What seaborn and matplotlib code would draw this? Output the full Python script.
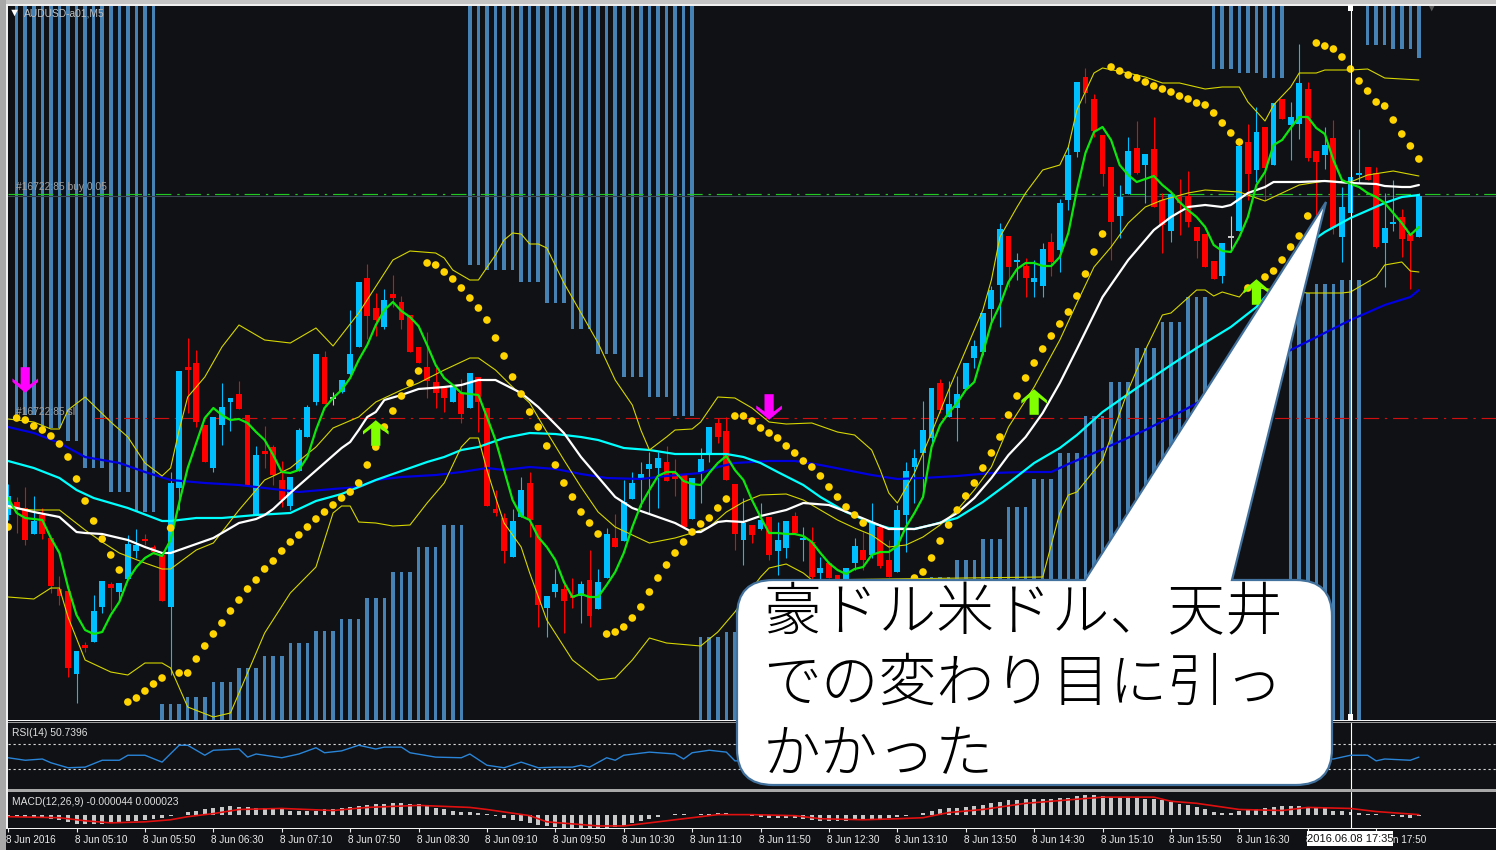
# -*- coding: utf-8 -*-
import numpy as np
import matplotlib
matplotlib.use("Agg")
import matplotlib.pyplot as plt
from matplotlib.patches import PathPatch, Rectangle
from matplotlib.path import Path
from matplotlib.transforms import ScaledTranslation
import seaborn as sns

candle_open = [515,502,508,534,515,538,589,591,674,645,642,607,584,592,579,551,539,547,555,607,
               488,367,363,425,468,425,402,394,415,515,451,447,480,506,471,437,402,357,397,392,
               374,347,278,308,327,294,302,315,347,367,382,388,402,393,408,377,408,509,518,557,
               517,483,525,608,592,589,595,596,580,609,578,538,541,499,478,469,468,462,473,474,
               519,473,453,423,431,484,540,525,529,517,551,548,516,540,542,573,563,575,580,563,
               550,555,527,560,572,515,467,453,438,383,417,408,389,358,352,309,285,236,262,266,
               282,286,242,250,200,152,77,99,135,167,216,194,148,165,149,200,231,197,196,227,
               234,261,276,236,231,142,170,127,165,99,125,124,89,151,155,138,237,213,175,167,
               173,243,223,217,234,237]
candle_close = [496,509,540,521,534,586,596,668,651,648,611,581,588,583,544,545,541,552,601,483,
                371,370,422,462,417,407,398,409,485,455,454,475,500,477,430,407,354,404,397,380,
                354,282,316,320,300,298,320,352,363,381,393,398,387,414,373,402,506,513,551,521,
                490,520,605,596,584,601,598,584,616,582,534,547,502,483,474,464,458,481,479,527,
                478,459,427,437,480,534,523,535,520,555,540,521,533,538,577,568,578,580,568,546,
                560,523,566,577,510,471,458,430,388,410,404,394,363,346,313,290,229,267,260,278,
                278,249,262,203,155,82,93,131,174,222,197,151,173,154,207,225,194,203,222,241,
                267,279,243,236,146,174,132,168,103,119,117,83,158,162,145,228,207,177,173,180,
                247,228,222,239,241,196]
candle_high = [484,497,487,496,508,538,576,588,651,642,595,581,582,583,535,529,534,545,553,472,
               371,338,350,425,417,383,398,381,415,446,426,445,461,477,428,405,354,351,392,380,
               310,282,264,293,289,275,296,315,347,332,367,388,387,379,373,377,408,490,513,509,
               477,472,525,596,569,580,578,581,550,569,528,514,480,472,462,452,452,446,459,474,
               478,448,427,418,417,484,498,525,503,517,522,521,512,527,527,557,563,575,568,538,
               532,503,527,540,505,462,449,401,388,379,381,376,363,340,313,286,223,236,253,258,
               260,243,233,199,145,82,68,94,135,167,185,137,121,154,117,193,194,179,171,227,
               234,261,243,216,140,124,107,127,103,99,102,44,82,151,127,120,187,177,129,167,
               167,193,180,209,234,193]
candle_low = [520,533,545,534,539,593,605,677,703,652,642,613,610,600,579,558,545,554,601,675,
              510,413,427,462,472,445,431,409,485,515,468,485,507,510,471,437,405,404,405,393,
              378,347,339,336,329,307,329,352,363,398,408,412,402,423,408,432,506,516,563,557,
              517,537,627,637,597,633,608,623,627,609,578,547,541,499,507,513,508,481,496,527,
              519,503,462,443,480,550,565,543,530,560,575,558,533,561,580,580,578,580,580,570,
              570,558,568,577,572,552,503,497,445,413,417,441,389,368,355,321,327,287,280,297,
              297,297,276,272,210,157,103,137,186,260,238,194,174,203,207,253,242,235,227,258,
              267,279,283,250,231,200,182,200,165,119,160,139,161,215,169,234,262,213,183,180,
              248,287,231,257,289,237]

green_line = [498,513,518,519,520,538,553,587,615,630,634,632,615,602,580,567,558,553,556,540,
              503,468,443,418,408,415,420,419,423,432,440,455,472,473,470,457,430,408,398,390,
              378,360,345,325,310,302,311,317,326,345,365,378,385,393,394,395,417,440,470,500,
              516,520,537,547,560,582,597,594,597,597,585,572,553,527,505,490,476,472,472,481,
              484,485,473,463,456,470,480,500,517,533,533,534,534,536,542,553,563,570,574,569,
              567,555,552,552,546,527,513,497,447,425,413,403,390,382,353,323,305,282,269,263,
              263,266,266,257,233,190,153,132,127,140,165,175,182,179,176,185,192,202,210,217,
              227,245,251,252,237,217,185,172,145,140,128,117,117,128,134,160,180,184,187,193,
              197,203,213,223,235,227]

white_x = [0,3,6,8,9,11,14,16,18,19,21,24,27,29,30,31,33,35,37,39,40,41,42,43,44,46,48,51,53,55,57,60,62,65,67,69,71,73,76,78,80,81,83,84,
           86,88,91,93,96,99,101,103,106,109,111,113,115,117,119,121,123,125,128,131,134,136,138,140,142,143,145,147,148,151,154,157,160,161,163,164,165]
white_y = [506,512,517,532,533,534,540,547,553,553,547,538,523,519,515,509,493,478,463,448,442,430,417,412,400,395,389,387,385,380,380,393,407,433,457,477,497,508,517,523,532,532,522,521,
           522,516,510,503,505,515,522,529,529,523,513,498,478,455,437,413,383,349,297,260,230,217,207,205,207,205,193,187,182,182,181,183,184,186,187,187,185]

cyan_x = [0,3,6,8,10,14,18,19,22,25,29,33,36,39,41,43,46,49,51,53,55,58,61,64,67,69,72,75,78,81,84,86,88,90,93,95,98,101,103,106,108,111,114,117,120,123,125,128,132,136,139,143,146,153,154,157,161,163,165]
cyan_y = [461,468,478,490,498,508,521,521,518,518,515,513,501,494,487,480,471,462,457,450,447,438,433,434,437,440,448,450,454,454,454,457,463,472,485,497,512,523,528,529,525,518,502,483,463,448,435,412,388,365,348,327,307,238,232,218,203,197,195]

navy_x = [0,3,6,9,13,16,19,23,27,31,34,38,41,43,46,50,53,56,58,61,64,67,70,74,77,81,83,85,89,92,95,98,101,104,107,111,115,119,122,124,127,133,138,150,157,161,164,165]
navy_y = [427,433,443,457,463,472,480,483,485,489,492,489,487,480,477,475,472,468,470,467,469,474,478,479,476,473,467,463,461,461,465,470,475,479,478,476,473,472,472,464,453,430,408,350,320,305,297,290]

band_up_x = [0,3,5,6,7,9,12,14,16,18,19,20,21,23,25,27,30,33,36,38,41,45,47,50,51,52,54,55,57,58,59,60,61,62,63,65,67,69,71,73,74,75,77,78,80,81,83,85,87,89,91,94,97,99,101,102,103,104,106,108,110,112,114,115,116,118,119,121,123,124,125,127,128,131,133,135,137,140,142,144,145,147,148,150,151,153,154,157,159,161,165]
band_up_y = [419,422,429,429,410,397,422,437,463,476,468,430,397,377,347,325,340,343,328,346,313,260,251,253,258,270,280,280,255,240,233,234,244,244,248,283,313,343,380,405,430,450,437,430,429,422,397,398,408,422,424,423,432,435,450,470,493,503,473,433,390,350,310,280,237,207,193,170,165,147,110,73,68,73,77,83,83,89,87,87,102,121,105,87,73,73,70,70,69,78,80]

band_mid_x = [0,3,6,9,11,13,16,18,19,22,24,27,30,33,36,38,41,43,46,48,51,54,55,57,59,61,63,65,67,69,71,73,75,78,80,82,84,86,88,91,93,95,97,99,101,103,105,107,109,111,113,115,117,120,123,125,127,129,131,133,135,138,140,144,147,149,151,154,157,159,162,165]
band_mid_y = [508,510,510,530,542,553,563,569,569,550,543,510,480,468,447,428,417,402,390,383,370,358,358,370,387,403,432,460,487,512,527,535,543,538,533,527,512,502,495,494,500,510,520,528,535,547,545,537,525,510,490,467,427,387,340,303,267,247,223,207,200,193,190,192,201,193,185,181,182,175,171,176]

band_low_x = [0,3,5,6,7,9,12,14,16,18,19,21,24,26,28,30,33,36,38,39,40,41,43,45,47,49,51,53,54,55,56,57,58,60,61,63,66,69,71,73,75,77,81,83,85,86,88,89,91,93,94,121,123,124,125,128,131,133,135,136,139,140,141,142,144,145,152,156,157,160,161,163,164,165]
band_low_y = [597,599,588,588,617,660,672,675,663,663,668,707,717,713,673,633,593,567,513,506,506,522,523,526,525,503,483,447,438,438,470,497,523,547,573,620,660,680,678,660,638,643,646,632,612,600,577,568,564,573,580,577,513,495,492,460,390,350,315,313,290,290,296,292,297,287,293,293,292,277,265,262,271,272]

psar_idx = list(range(0, 101)) + list(range(106, 166))
psar_y = [527,418,420,426,430,436,444,457,479,501,521,539,555,570,702,698,691,684,678,528,
          673,673,659,646,634,623,611,600,589,580,569,561,551,542,535,527,519,512,505,498,
          492,483,465,447,427,411,396,383,371,263,265,272,279,288,298,308,320,338,356,377,
          394,412,427,446,465,483,497,512,523,534,634,632,627,618,607,592,578,565,553,542,
          532,524,518,508,499,416,416,421,428,433,438,446,453,461,467,476,487,497,507,515,523,
          578,572,558,541,525,510,496,483,468,453,437,415,396,378,363,349,336,324,312,296,274,252,234,
          67,71,75,78,82,86,89,92,96,99,103,105,113,123,133,142,
          288,285,277,271,260,247,236,216,
          43,46,49,57,69,81,91,102,106,120,134,146,159]

# oscillator bars hanging from the top of the chart, and standing on its bottom
hang_idx = list(range(1, 18)) + list(range(54, 81)) + list(range(141, 150)) + list(range(159, 166))
hang_end = [415,415,415,428,428,428,441,441,468,468,468,492,492,492,512,512,512,
            265,265,270,270,270,270,282,282,282,303,303,303,329,329,329,354,354,354,377,377,377,397,397,397,416,416,416,
            69,69,69,73,73,73,78,78,78,
            45,45,45,49,49,49,58]
stand_idx = list(range(18, 54)) + list(range(81, 87)) + list(range(108, 141)) + list(range(150, 159))
stand_top = [704,704,704,697,697,697,682,682,682,668,668,668,656,656,656,643,643,643,631,631,631,619,619,619,598,598,598,572,572,572,547,547,547,525,525,525,
             637,637,637,632,632,632,
             577,577,577,560,560,560,539,539,539,507,507,507,479,479,479,453,453,453,416,416,416,382,382,382,348,348,348,322,322,322,297,297,297,
             293,293,293,284,284,284,280,280,280]

rsi_x = [0,2,4,5,7,9,11,13,14,16,18,20,21,23,24,27,28,29,32,34,36,37,39,41,43,44,46,47,50,53,54,56,58,60,62,64,66,67,68,70,71,72,75,78,79,80,82,84,85,155,157,159,160,161,164,165]
rsi_y = [48,44,46,40,32,33,44,44,52,52,41,68,68,52,60,62,49,54,48,54,64,56,59,68,62,65,65,56,49,48,54,36,32,41,32,33,33,36,33,48,44,52,57,54,46,56,60,57,43,46,52,52,43,46,44,49]

macd_hist = [-2,-2,-2,-3,-3,-4,-5,-7,-9,-9,-9,-9,-8,-7,-6,-6,-5,-4,-3,-1,0,
             3,4,5,6,7,8,7,7,6,6,6,5,4,4,4,4,5,5,6,7,8,9,10,10,11,11,10,10,8,6,5,4,3,3,2,1,
             -1,-3,-5,-6,-8,-10,-11,-12,-13,-13,-14,-14,-13,-13,-12,-11,-8,-6,-4,-2,0,1,1,0,1,1,2,2,1,1,
             -1,-2,-3,-3,-3,-3,-4,-5,-6,-6,-6,-6,-5,-5,-4,-4,-3,-2,-1,0,
             2,4,5,6,6,7,8,9,11,12,14,14,15,15,15,15,16,16,18,19,19,18,17,17,16,16,15,15,14,12,10,9,7,5,3,2,2,
             4,5,5,6,7,8,8,8,7,6,6,4,4,3,2,1,1,0,-1,-2,-3,-1]
signal_x = [0,6,9,12,16,19,21,24,27,32,35,38,42,48,54,56,61,63,69,72,77,83,87,92,95,100,104,107,110,114,119,122,125,128,134,136,139,144,149,152,157,160,165]
signal_y = [-2,-3,-6,-8,-7,-5,-2,1,5,6,5,4,7,9,7,5,-1,-7,-11,-11,-6,0,0,-1,-4,-5,-4,-3,2,5,11,13,15,17,17,13,11,5,4,7,6,3,0]

time_ticks = ["8 Jun 2016", "8 Jun 05:10", "8 Jun 05:50", "8 Jun 06:30", "8 Jun 07:10", "8 Jun 07:50", "8 Jun 08:30",
              "8 Jun 09:10", "8 Jun 09:50", "8 Jun 10:30", "8 Jun 11:10", "8 Jun 11:50", "8 Jun 12:30", "8 Jun 13:10",
              "8 Jun 13:50", "8 Jun 14:30", "8 Jun 15:10", "8 Jun 15:50", "8 Jun 16:30", "8 Jun 17:10", "8 Jun 17:50"]
callout_lines = ["豪ドル米ドル、天井", "での変わり目に引っ", "かかった"]
cursor_bar = 157
doji_bars = [38, 143]

BG = "#0f1114"
UP = "#00bfff"
DOWN = "#ff0000"
W, H = 1496, 850
STEP = 8.55
LEFT = 8.15

sns.set_theme(style="dark", rc={"axes.facecolor": BG, "figure.facecolor": BG, "patch.edgecolor": "none"})
plt.rcParams["font.family"] = ["Noto Sans CJK JP", "DejaVu Sans"]

fig = plt.figure(figsize=(W / 100, H / 100), dpi=100)


def px_axes(x0, y0, x1, y1, z=1):
    ax = fig.add_axes([x0 / W, 1 - y1 / H, (x1 - x0) / W, (y1 - y0) / H], zorder=z)
    ax.set_xlim((x0 - LEFT) / STEP, (x1 - LEFT) / STEP)
    ax.set_xticks([])
    ax.set_yticks([])
    for s in ax.spines.values():
        s.set_visible(False)
    return ax


def draw_line(ax, x, y, color, lw, z=4):
    sns.lineplot(x=x, y=y, ax=ax, color=color, linewidth=lw, sort=False, estimator=None,
                 errorbar=None, legend=False, zorder=z)


# window frame
frame = fig.add_axes([0, 0, 1, 1], zorder=0)
frame.set_xlim(0, W)
frame.set_ylim(H, 0)
frame.axis("off")
frame.add_patch(Rectangle((0, 0), W, 4, color="#c4c4c4", lw=0))
frame.add_patch(Rectangle((0, 4), W, 2, color="#f0f0f0", lw=0))
frame.add_patch(Rectangle((0, 0), 6, H, color="#a8a8a8", lw=0))
frame.add_patch(Rectangle((6, 4), 2, 825, color="#f0f0f0", lw=0))
frame.add_patch(Rectangle((8, 720), W, 1.2, color="#f4f4f4", lw=0))
frame.add_patch(Rectangle((8, 722), W, 1, color="#9a9a9a", lw=0))
frame.add_patch(Rectangle((8, 789), W, 3, color="#a8a8a8", lw=0))
frame.add_patch(Rectangle((6, 828), W, 1.4, color="#f4f4f4", lw=0))

# main chart
ax = px_axes(8, 6, W, 720)
ax.set_ylim(720, 6)
ax.bar(hang_idx, [e - 6 for e in hang_end], bottom=6, width=0.42, color="#4682b4", linewidth=0, zorder=1)
ax.bar(stand_idx, [720 - t for t in stand_top], bottom=stand_top, width=0.42, color="#4682b4", linewidth=0, zorder=1)

ax.axhline(196, color="#3d4a55", lw=0.8, zorder=1.5)
ax.axhline(194, color="#22c822", lw=0.85, ls=(0, (13, 5, 2, 5)), zorder=1.6)
ax.plot([10, 174], [418, 418], color="#d01010", lw=0.85, ls=(0, (13, 5, 2, 5)), zorder=1.5)

bars = np.arange(len(candle_open))
co = np.array(candle_open)
cc = np.array(candle_close)
colors = [("#c8c8c8" if i in doji_bars else (UP if cc[i] < co[i] else DOWN)) for i in bars]
ax.vlines(bars, candle_high, candle_low, colors=colors, lw=0.8, zorder=2)
ax.bar(bars, np.maximum(np.abs(co - cc), 1.5), bottom=np.minimum(co, cc), width=0.68, color=colors, linewidth=0, zorder=3)

draw_line(ax, navy_x, navy_y, "#0000e0", 1.6)
draw_line(ax, cyan_x, cyan_y, "#00ffff", 1.6)
draw_line(ax, band_up_x, band_up_y, "#d6d600", 0.8)
draw_line(ax, band_mid_x, band_mid_y, "#d6d600", 0.8)
draw_line(ax, band_low_x, band_low_y, "#d6d600", 0.8)
draw_line(ax, white_x, white_y, "#ffffff", 1.6)
draw_line(ax, bars, green_line, "#0ee60e", 1.6)
sns.scatterplot(x=psar_idx, y=psar_y, ax=ax, color="#ffd400", s=30, edgecolor="none", legend=False, zorder=5)

arrow_up = Path([(0, 1), (1, 0.15), (1, -0.12), (0.36, 0.36), (0.36, -1), (-0.36, -1), (-0.36, 0.36), (-1, -0.12), (-1, 0.15), (0, 1)], closed=True)
arrow_down = Path(arrow_up.vertices * np.array([1, -1]), closed=True)
sns.scatterplot(x=[2, 89], y=[380, 407], ax=ax, color="#ff00ff", marker=arrow_down, s=340, edgecolor="none", legend=False, zorder=6)
sns.scatterplot(x=[43, 120, 146], y=[433, 402, 292], ax=ax, color="#7fff00", marker=arrow_up, s=340, edgecolor="none", legend=False, zorder=6)

ax.axvline(cursor_bar, color="#ffffff", lw=0.8, zorder=7)
sns.scatterplot(x=[cursor_bar, cursor_bar], y=[8, 717], ax=ax, color="#ffffff", marker="s", s=18, edgecolor="none", legend=False, zorder=7, clip_on=False)

small = dict(family="Liberation Sans", fontsize=7.4)
ax.text(1.8, 13.5, "AUDUSD-a01,M5", color="#c0c0c0", va="center", zorder=8, **small)
ax.text(0.9, 187, "#16722:85 buy 0.05", color="#a0a0a0", va="center", zorder=8, **small)
ax.text(0.9, 412, "#16722:85 sl", color="#a0a0a0", va="center", zorder=8, **small)
sns.scatterplot(x=[0.75], y=[13], ax=ax, color="#ffffff", marker="v", s=22, edgecolor="none", legend=False, zorder=8)
sns.scatterplot(x=[166.5], y=[7], ax=ax, color="#5a5a5a", marker="v", s=40, edgecolor="none", legend=False, zorder=8)
ax.set_xlim((8 - LEFT) / STEP, (W - LEFT) / STEP)
ax.set_ylim(720, 6)
ax.set_xticks([])
ax.set_yticks([])
ax.set_xlabel("")

# RSI panel, 70 and 30 levels dotted
rsi_ax = px_axes(8, 723, W, 789)
rsi_ax.axhline(70, color="#d8d8d8", lw=0.8, ls=(0, (2, 2.5)))
rsi_ax.axhline(30, color="#d8d8d8", lw=0.8, ls=(0, (2, 2.5)))
draw_line(rsi_ax, rsi_x, rsi_y, "#2a84d8", 1.0)
rsi_ax.axvline(cursor_bar, color="#ffffff", lw=0.8)
rsi_ax.set_ylim(-2, 103.6)
rsi_ax.set_yticks([])
rsi_ax.set_xticks([])
rsi_ax.text(0.45, 88, "RSI(14) 50.7396", color="#e0e0e0", va="center", **small)

# MACD panel
macd_ax = px_axes(8, 792, W, 828)
macd_ax.bar(bars, macd_hist, width=0.46, color="#c8c8c8", linewidth=0, zorder=1)
draw_line(macd_ax, signal_x, signal_y, "#e01010", 1.2)
macd_ax.axvline(cursor_bar, color="#ffffff", lw=0.8)
macd_ax.set_ylim(-13, 22)
macd_ax.set_yticks([])
macd_ax.text(0.45, 12, "MACD(12,26,9) -0.000044 0.000023", color="#e0e0e0", va="center", **small)
tick_bars = bars[::8]
macd_ax.set_xticks(tick_bars)
macd_ax.set_xticklabels(time_ticks, color="#ececec", ha="left", family="Liberation Sans", fontsize=7.2)
macd_ax.tick_params(axis="x", length=3, width=0.8, color="#e8e8e8", pad=3, bottom=True)
shift = ScaledTranslation(-2 / 100, 1.5 / 100, fig.dpi_scale_trans)
for lab in macd_ax.get_xticklabels():
    lab.set_transform(lab.get_transform() + shift)

# overlay: cursor date box and the speech bubble
top = fig.add_axes([0, 0, 1, 1], zorder=10)
top.set_xlim(0, W)
top.set_ylim(H, 0)
top.axis("off")
top.patch.set_alpha(0)
top.add_patch(Rectangle((1307, 831), 86, 15, color="#ffffff", lw=0))
top.text(1350, 838.5, "2016.06.08 17:35", ha="center", va="center", color="#111111",
         family="Liberation Sans", fontsize=8)

r = 36
verts = [(737 + r, 580), (1085, 580), (1326, 202), (1232, 580), (1332 - r, 580),
         (1332, 580), (1332, 580 + r), (1332, 785 - r),
         (1332, 785), (1332 - r, 785), (737 + r, 785),
         (737, 785), (737, 785 - r), (737, 580 + r),
         (737, 580), (737 + r, 580), (737 + r, 580)]
codes = [Path.MOVETO, Path.LINETO, Path.LINETO, Path.LINETO, Path.LINETO,
         Path.CURVE3, Path.CURVE3, Path.LINETO,
         Path.CURVE3, Path.CURVE3, Path.LINETO,
         Path.CURVE3, Path.CURVE3, Path.LINETO,
         Path.CURVE3, Path.CURVE3, Path.CLOSEPOLY]
top.add_patch(PathPatch(Path(verts, codes), facecolor="#ffffff", edgecolor="#41719c", lw=1.6))
for line, y in zip(callout_lines, [614, 684, 756]):
    top.text(763, y, line, color="#000000", fontsize=41.6, fontweight="light", va="center", ha="left")

fig.savefig("out.png", dpi=100, facecolor=BG)
